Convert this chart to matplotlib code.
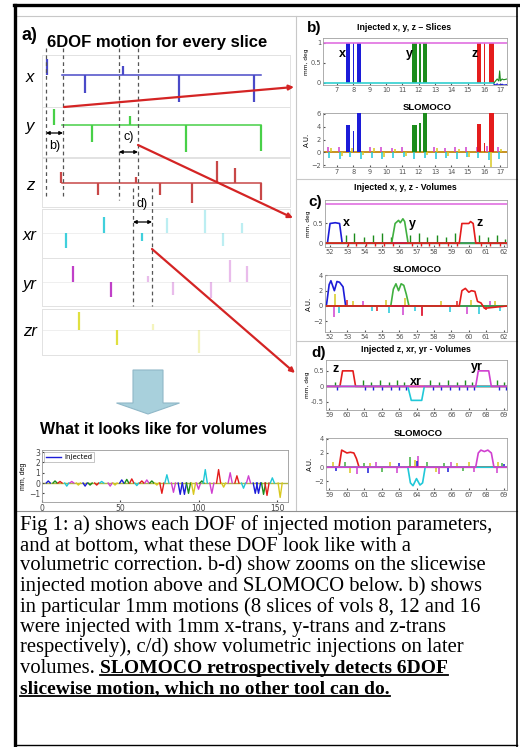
import matplotlib
matplotlib.use('Agg')
import matplotlib.pyplot as plt
import matplotlib.patches as mpatches

W, H = 520, 747
SANS = 'Liberation Sans'
SERIF = 'Liberation Serif'

# ---- a) slice traces: spike positions (volumes) and sizes (mm / deg)
x_spk_vol = [7.5, 30, 52, 85, 129]
x_spk_val = [1.1, -1.2, 0.6, -1.8, -1.8]
y_spk_vol = [11.6, 34, 56, 89, 133]
y_spk_val = [1.1, -1.1, 0.6, -1.8, -1.7]
z_spk_vol = [15.6, 37.4, 60, 73.7, 92.4, 107, 117.5, 133]
z_spk_val = [0.75, -0.8, 0.4, -0.8, -1.3, 1.5, 1.0, -1.1]
xr_spk_vol = [18.7, 41, 63.5, 77.8, 100, 110.5, 121.6]
xr_spk_val = [-1.0, 1.05, -0.5, 1.0, 1.5, -0.85, 0.65]
yr_spk_vol = [22.8, 45, 66.7, 81.3, 103.5, 114.6, 125]
yr_spk_val = [1.05, -1.0, 0.4, -0.85, -1.05, 1.5, 1.05]
zr_spk_vol = [26.3, 48.5, 70, 96.5]
zr_spk_val = [1.2, -1.0, 0.4, -1.5]
trace_start, trace_end = 16.5, 133
row_names = ['x', 'y', 'z', 'xr', 'yr', 'zr']

# ---- bottom: volumetric version
vol_pos = [4.0, 8.3, 11.5, 15.8, 19.0, 23.2, 27.5, 30.7, 34.9, 38.1, 43.5,
           46.6, 50.9, 54.1, 57.3, 60.5, 63.7, 66.9, 70.1, 73.3, 76.5, 79.7,
           83.9, 88.2, 90.9, 93.5, 96.7, 99.9, 102.0, 104.2, 108.4, 112.7,
           115.9, 120.1, 124.4, 128.6, 131.8, 136.1, 138.2, 141.4, 143.6,
           147.0, 152.0]
vol_val = [0.2, 0.2, 0.15, -0.3, 0.15, -0.2, -0.3, -0.2, -0.2, 0.15, -0.3,
           -0.2, 0.3, 0.35, 0.4, -0.25, 0.2, 0.3, 0.2, -0.2, -1.0, 0.8,
           -0.9, -1.1, -1.1, -1.0, -1.1, -0.6, 0.2, 1.3, -1.0, 1.3,
           -0.4, 1.0, 0.7, -0.5, 0.7, -1.0, -1.0, -1.1, -1.2,
           0.5, -1.4]
vol_dof = ['x', 'y', 'z', 'xr', 'yr', 'zr', 'x', 'y', 'z', 'xr', 'yr',
           'zr', 'x', 'y', 'z', 'xr', 'z', 'yr', 'y', 'zr', 'z', 'xr',
           'yr', 'x', 'x', 'y', 'zr', 'yr', 'y', 'xr', 'yr', 'z',
           'zr', 'yr', 'z', 'xr', 'yr', 'x', 'x', 'y', 'z',
           'xr', 'zr']

# ---- b) injected slices (volume intervals)
b_x_slices = [(7.55, 7.80), (7.98, 8.06), (8.22, 8.48)]
b_y_slices = [(11.60, 11.88), (12.02, 12.12), (12.28, 12.50)]
b_z_slices = [(15.58, 15.82), (15.98, 16.06), (16.32, 16.58)]
b_slo_x = [4.3, 3.3, 6.5]
b_slo_y = [4.2, 4.6, 6.5]
b_slo_z = [4.4, 1.4, 6.5]
b_tail_t = [16.6, 16.7, 16.8, 16.9, 16.95, 17.0, 17.1, 17.2, 17.4]
b_tail_g = [0, 0.05, 0.1, 0.05, 0.3, 0.05, 0.1, 0.08, 0.1]
b_tail_b = [-0.03, -0.05, -0.02, -0.06, -0.04, -0.05, -0.03, -0.05, -0.04]
b_art_t = [6.45, 7.1, 7.75, 8.4, 9.05, 9.7, 10.35, 11.0, 11.65, 12.3, 12.95,
           13.6, 14.25, 14.9, 15.55, 16.2, 16.85]
b_art_up = [0.8, 0.9, 0.7, 0.8, 0.9, 0.8, 0.7, 0.9, 0.8, 0.9, 0.8, 0.7, 0.9,
            0.8, 0.8, 1.0, 0.8]
b_art_dn = [-0.9, -1.0, -0.8, -1.1, -0.9, -1.0, -0.9, -0.8, -1.0, -0.9, -1.1,
            -0.9, -1.0, -0.8, -0.9, -1.2, -1.0]
b_art_yl = [0.6, -0.6, 0.7, -0.5, 0.6, -0.7, 0.5, -0.6, 0.7, -0.5, 0.6,
            -0.6, 0.5, -0.7, 0.6, -2.7, 0.5]

# ---- c) volumes 52-62
c_x_t = [51.7, 51.85, 52.0, 52.3, 52.55, 52.7, 62.2]
c_x_v = [0, 0, 0.5, 0.52, 0.5, 0, 0]
c_y_t = [51.7, 55.55, 55.75, 55.95, 56.05, 56.2, 56.3, 56.5, 62.2]
c_y_v = [0, 0, 0.5, 0.58, 0.52, 0.62, 0.55, 0, 0]
c_z_t = [51.7, 59.45, 59.6, 60.0, 60.1, 60.25, 60.4, 62.2]
c_z_v = [0, 0, 0.5, 0.5, 0.55, 0.5, 0, 0]
c_spk_t = [52.9, 53.4, 53.95, 54.5, 55.0, 55.5, 56.6, 57.1, 57.6, 58.15,
           58.7, 59.2, 60.6, 61.1, 61.65, 62.1]
c_spk_v = [0.2, 0.25, 0.15, 0.2, 0.25, 0.15, 0.2, 0.25, 0.15, 0.2, 0.15,
           0.25, 0.2, 0.15, 0.2, 0.1]
c_slo_x_t = [51.7, 51.8, 51.95, 52.05, 52.25, 52.4, 52.55, 52.75, 52.9, 62.2]
c_slo_x_v = [0, 0.2, 2.8, 3.3, 2.0, 3.2, 3.1, 2.5, 0, 0]
c_slo_y_t = [51.7, 55.5, 55.65, 55.8, 55.95, 56.1, 56.25, 56.4, 56.55, 62.2]
c_slo_y_v = [0, 0, 2.2, 2.9, 2.0, 2.9, 2.7, 1.5, 0, 0]
c_slo_z_t = [51.7, 59.45, 59.6, 59.8, 60.0, 60.15, 60.35, 60.5, 60.7, 60.9, 62.2]
c_slo_z_v = [0, 0, 2.0, 2.3, 1.8, 2.0, 1.9, 0.6, 0.4, -0.3, 0]
c_slo_yl_t = [52.3, 53.3, 55.2, 56.3, 58.4, 60.1, 61.5]
c_slo_yl_v = [1.6, 0.6, 0.8, 1.0, 0.6, 0.8, 0.7]
c_slo_mg_t = [52.2, 53.9, 56.2, 57.3, 59.9, 61.2]
c_slo_mg_v = [-1.5, 0.7, -1.2, -1.2, -1.0, 0.6]
c_slo_cy_t = [52.5, 54.4, 55.4, 56.9, 58.9, 60.6, 61.8]
c_slo_cy_v = [-0.9, -0.7, -0.9, -0.6, -0.8, -1.1, -0.7]
c_slo_rd_t = [53.0, 54.7, 57.3, 59.3, 61.0]
c_slo_rd_v = [0.8, -0.6, -1.3, 0.6, -0.5]

# ---- d) volumes 59-69
d_z_t = [58.8, 59.6, 59.75, 60.35, 60.5, 69.2]
d_z_v = [0, 0, 0.5, 0.5, 0, 0]
d_xr_t = [58.8, 63.5, 63.7, 64.3, 64.45, 69.2]
d_xr_v = [0, 0, -0.45, -0.45, 0, 0]
d_yr_t = [58.8, 67.4, 67.55, 68.15, 68.3, 69.2]
d_yr_v = [0, 0, 0.5, 0.5, 0, 0]
d_spk_t = [59.3, 60.9, 61.4, 61.9, 62.4, 62.9, 63.3, 64.8, 65.3, 65.8, 66.3,
           66.8, 67.2, 68.6, 69.0]
d_spk_v = [0.15, 0.2, 0.15, 0.2, 0.15, 0.2, 0.15, 0.2, 0.15, 0.2, 0.15, 0.2,
           0.15, 0.2, 0.15]
d_slo_z_t = [58.8, 59.55, 59.7, 59.85, 60.0, 60.2, 60.4, 60.55, 60.7, 69.2]
d_slo_z_v = [0, 0, 2.4, 2.2, 2.0, 2.1, 2.0, 1.2, 0, 0]
d_slo_xr_t = [58.8, 63.5, 63.65, 63.8, 64.0, 64.2, 64.35, 64.5, 69.2]
d_slo_xr_v = [0, 0, -2.2, -2.6, -1.6, -2.5, -2.2, 0, 0]
d_slo_yr_t = [58.8, 67.4, 67.55, 67.7, 67.9, 68.1, 68.3, 68.45, 69.2]
d_slo_yr_v = [0, 0, 2.0, 2.4, 2.2, 2.4, 2.0, 0, 0]
d_slo_yl_t = [59.2, 60.2, 61.3, 62.5, 63.9, 65.1, 66.3, 67.0, 68.7]
d_slo_yl_v = [0.7, -0.8, 0.6, 0.8, 1.0, -0.7, 0.6, 0.7, 0.8]
d_slo_gn_t = [59.9, 61.0, 62.0, 63.6, 64.6, 65.6, 66.7, 68.9]
d_slo_gn_v = [0.8, 0.6, -0.7, 1.5, 0.7, 0.6, -0.6, 0.6]
d_slo_mg_t = [60.6, 61.7, 62.9, 64.1, 65.3, 66.0, 67.3, 68.6]
d_slo_mg_v = [-0.9, 0.7, -0.8, 1.6, -0.9, 0.8, -0.7, -0.8]
d_slo_bl_t = [59.4, 61.2, 63.0, 64.0, 65.8, 69.0]
d_slo_bl_v = [-0.6, -0.8, 0.6, 0.9, -0.7, 0.5]

caption = [
    "Fig 1: a) shows each DOF of injected motion parameters,",
    "and at bottom, what these DOF look like with a",
    "volumetric correction. b-d) show zooms on the slicewise",
    "injected motion above and SLOMOCO below. b) shows",
    "in particular 1mm motions (8 slices of vols 8, 12 and 16",
    "were injected with 1mm x-trans, y-trans and z-trans",
    "respectively), c/d) show volumetric injections on later",
]
caption_lead = "volumes."
caption_bold = ["SLOMOCO retrospectively detects 6DOF",
                "slicewise motion, which no other tool can do."]

ROW_COL = {'x': '#4a4ac8', 'y': '#48d048', 'z': '#c84848',
           'xr': '#40d0dc', 'yr': '#c040c8', 'zr': '#e0e040'}
PAN_COL = {'x': '#1c1cd8', 'y': '#1c8c1c', 'z': '#e41c1c',
           'xr': '#20c8d8', 'yr': '#d040d0', 'zr': '#d8c820'}


def box(l, t, r, b):
    return [l / W, 1 - b / H, (r - l) / W, (b - t) / H]


fig = plt.figure(figsize=(W / 100, H / 100), dpi=100)
fig.patch.set_facecolor('white')

# ---------------- a) rows
row_data = {'x': (x_spk_vol, x_spk_val), 'y': (y_spk_vol, y_spk_val),
            'z': (z_spk_vol, z_spk_val), 'xr': (xr_spk_vol, xr_spk_val),
            'yr': (yr_spk_vol, yr_spk_val), 'zr': (zr_spk_vol, zr_spk_val)}
row_top = [55, 107, 158, 209, 258, 309]
row_bot = [107, 157, 207, 258, 306, 355]
row_base = [75, 125, 183, 233, 282, 330]
for name, t, b, base in zip(row_names, row_top, row_bot, row_base):
    ax = fig.add_axes(box(42, t, 290, b))
    ax.set_xlim(4.7, 150)
    ax.set_ylim(-(b - base) / 15, (base - t) / 15)
    ax.set_xticks([]); ax.set_yticks([])
    for s in ax.spines.values():
        s.set_color('#e2e2e2'); s.set_linewidth(0.7)
    col = ROW_COL[name]
    vols, vals = row_data[name]
    if name in ('x', 'y', 'z'):
        ax.plot([trace_start, trace_end], [0, 0], color=col, lw=1.1)
    else:
        ax.axhline(0, color='#ececec', lw=0.6)
    for v, h in zip(vols, vals):
        a = 1.0 if (name in ('x', 'y', 'z') or v < 65) else 0.35
        ax.vlines(v, 0, h, color=col, lw=1.6, alpha=a)

# ---------------- bottom volumes plot
axv = fig.add_axes(box(42, 450, 288, 502))
axv.set_xlim(0, 157)
axv.set_ylim(-1.84, 3.2)
axv.set_xticks([0, 50, 100, 150])
axv.set_yticks([-1, 0, 1, 2, 3])
axv.tick_params(labelsize=5.5, length=1.5, pad=1.5, direction='in', colors='#444444')
for s in axv.spines.values():
    s.set_color('#999999'); s.set_linewidth(0.6)
axv.axhline(0, color='#b0b840', lw=1.0, zorder=1)
first = True
for p, v, d in zip(vol_pos, vol_val, vol_dof):
    lab = None
    if d == 'x' and first:
        lab = 'Injected'; first = False
    axv.plot([p - 1.3, p, p + 1.3], [0, v, 0], color=PAN_COL[d], lw=1.0, label=lab)
leg = axv.legend(loc='upper left', fontsize=5, handlelength=2.2, frameon=True,
                 fancybox=False, borderpad=0.3, handletextpad=0.4,
                 borderaxespad=0.3)
leg.get_frame().set_edgecolor('#999999'); leg.get_frame().set_linewidth(0.5)
axv.set_ylabel('mm, deg', fontsize=5, labelpad=1, family=SANS)


# ---------------- right panels
def panel(l, t, r, b, xlim, ylim, yticks, yfmt=None):
    ax = fig.add_axes(box(l, t, r, b))
    ax.set_xlim(xlim); ax.set_ylim(ylim)
    lo = int(round(xlim[0] + 0.4))
    ax.set_xticks(range(lo, int(xlim[1]) + 1))
    ax.set_yticks(yticks)
    if yfmt is not None:
        ax.set_yticklabels(yfmt)
    ax.tick_params(labelsize=4.8, length=1.5, pad=1.5, colors='#555555',
                   direction='in')
    for s in ax.spines.values():
        s.set_color('#a0a0a0'); s.set_linewidth(0.6)
    return ax


def spikes(ax, ts, vs, col, lw=1.1):
    ax.vlines(ts, 0, vs, color=col, lw=lw)


# b)
bt = panel(323, 38, 507, 85, (6.15, 17.4), (-0.05, 1.12), [0, 0.5, 1], ['0', '0.5', '1'])
bt.axhline(1, color='#e070e0', lw=1.2)
bt.plot([6.15, 16.6], [0, 0], color='#30d0d0', lw=1.2)
for sl, key in ((b_x_slices, 'x'), (b_y_slices, 'y'), (b_z_slices, 'z')):
    bt.bar([s[0] for s in sl], [1] * len(sl), width=[s[1] - s[0] for s in sl],
           align='edge', color=PAN_COL[key], lw=0)
bt.plot(b_tail_t, b_tail_g, color=PAN_COL['y'], lw=0.8)
bt.plot(b_tail_t, b_tail_b, color=PAN_COL['x'], lw=0.8)
for tx, lab in ((7.15, 'x'), (11.2, 'y'), (15.2, 'z')):
    bt.text(tx, 0.72, lab, fontsize=9, weight='bold', family=SANS, va='center')
bt.set_ylabel('mm, deg', fontsize=4.2, labelpad=1)

bl = panel(323, 113, 507, 167, (6.15, 17.4), (-2.3, 6.15), [-2, 0, 2, 4, 6])
bl.axhline(0, color='#c89020', lw=1.4, zorder=1)
spikes(bl, b_art_t, b_art_up, PAN_COL['yr'])
spikes(bl, [t + 0.08 for t in b_art_t], b_art_dn, PAN_COL['xr'])
spikes(bl, [t + 0.2 for t in b_art_t], b_art_yl, PAN_COL['zr'])
for sl, vals, key in ((b_x_slices, b_slo_x, 'x'), (b_y_slices, b_slo_y, 'y'),
                      (b_z_slices, b_slo_z, 'z')):
    bl.bar([s[0] for s in sl], vals, width=[s[1] - s[0] for s in sl],
           align='edge', color=PAN_COL[key], lw=0, zorder=3)
bl.set_ylabel('A.U.', fontsize=5, labelpad=1)

# c)
ct = panel(325, 200, 507, 247, (51.71, 62.2), (-0.1, 1.1), [0, 0.5], ['0', '0.5'])
ct.axhline(1, color='#e070e0', lw=1.2)
spikes(ct, c_spk_t, c_spk_v, PAN_COL['y'], lw=1.0)
spikes(ct, [t + 0.12 for t in c_spk_t], [-0.07] * len(c_spk_t), PAN_COL['z'], lw=1.0)
ct.plot(c_x_t, c_x_v, color=PAN_COL['x'], lw=1.2)
ct.plot(c_y_t, c_y_v, color='#40b040', lw=1.2)
ct.plot(c_z_t, c_z_v, color=PAN_COL['z'], lw=1.2)
ct.axhline(0, color='#207070', lw=1.0, zorder=1)
for tx, lab in ((52.75, 'x'), (56.55, 'y'), (60.45, 'z')):
    ct.text(tx, 0.5, lab, fontsize=9, weight='bold', family=SANS, va='center')
ct.set_ylabel('mm, deg', fontsize=4.2, labelpad=1)

cl = panel(325, 275, 507, 332, (51.71, 62.2), (-3.4, 4.05), [-2, 0, 2, 4])
cl.axhline(0, color='#c89020', lw=1.2, zorder=1)
spikes(cl, c_slo_yl_t, c_slo_yl_v, PAN_COL['zr'])
spikes(cl, c_slo_mg_t, c_slo_mg_v, PAN_COL['yr'])
spikes(cl, c_slo_cy_t, c_slo_cy_v, PAN_COL['xr'])
spikes(cl, c_slo_rd_t, c_slo_rd_v, PAN_COL['z'])
cl.plot(c_slo_x_t, c_slo_x_v, color=PAN_COL['x'], lw=1.2)
cl.plot(c_slo_y_t, c_slo_y_v, color='#40b040', lw=1.2)
cl.plot(c_slo_z_t, c_slo_z_v, color=PAN_COL['z'], lw=1.2)
cl.set_ylabel('A.U.', fontsize=5, labelpad=1)

# d)
dt = panel(326, 360, 507, 410, (58.8, 69.2), (-0.76, 0.85), [-0.5, 0, 0.5],
           ['-0.5', '0', '0.5'])
spikes(dt, d_spk_t, d_spk_v, PAN_COL['y'], lw=1.0)
spikes(dt, [t + 0.12 for t in d_spk_t], [-0.12] * len(d_spk_t), PAN_COL['x'], lw=1.0)
dt.axhline(0, color='#a08030', lw=1.0, zorder=1)
dt.plot(d_z_t, d_z_v, color=PAN_COL['z'], lw=1.2)
dt.plot(d_xr_t, d_xr_v, color=PAN_COL['xr'], lw=1.2)
dt.plot(d_yr_t, d_yr_v, color=PAN_COL['yr'], lw=1.2)
dt.text(59.15, 0.55, 'z', fontsize=9, weight='bold', family=SANS, va='center')
dt.text(63.6, 0.13, 'xr', fontsize=9, weight='bold', family=SANS, va='center')
dt.text(67.1, 0.62, 'yr', fontsize=9, weight='bold', family=SANS, va='center')
dt.set_ylabel('mm, deg', fontsize=4.2, labelpad=1)

dl = panel(326, 438, 507, 490, (58.8, 69.2), (-3.2, 4.1), [-2, 0, 2, 4])
dl.axhline(0, color='#c89020', lw=1.2, zorder=1)
spikes(dl, d_slo_yl_t, d_slo_yl_v, PAN_COL['zr'])
spikes(dl, d_slo_gn_t, d_slo_gn_v, '#40b040')
spikes(dl, d_slo_mg_t, d_slo_mg_v, PAN_COL['yr'])
spikes(dl, d_slo_bl_t, d_slo_bl_v, PAN_COL['x'])
dl.plot(d_slo_z_t, d_slo_z_v, color=PAN_COL['z'], lw=1.2)
dl.plot(d_slo_xr_t, d_slo_xr_v, color=PAN_COL['xr'], lw=1.2)
dl.plot(d_slo_yr_t, d_slo_yr_v, color=PAN_COL['yr'], lw=1.2)
dl.set_ylabel('A.U.', fontsize=5, labelpad=1)

# ---------------- overlay: frames, labels, arrows, caption
ov = fig.add_axes([0, 0, 1, 1], zorder=10)
ov.set_xlim(0, W); ov.set_ylim(H, 0)
ov.axis('off')
ov.patch.set_alpha(0)

grey = '#c8c8c8'
ov.plot([17, 517], [16, 16], color=grey, lw=0.8)
ov.plot([296, 296], [16, 510], color=grey, lw=0.8)
ov.plot([296, 517], [179, 179], color=grey, lw=0.8)
ov.plot([296, 517], [341, 341], color=grey, lw=0.8)
ov.plot([17, 517], [511, 511], color='#909090', lw=0.8)
ov.plot([15, 15], [5, 747], color='black', lw=2.4)
ov.plot([14, 518], [5, 5], color='black', lw=2.4)
ov.plot([517, 517], [5, 747], color='black', lw=1.2)
ov.plot([15, 517], [745, 745], color='black', lw=1.0)

ov.text(22, 35, 'a)', fontsize=13, weight='bold', family=SANS, va='center')
ov.text(157, 42, '6DOF motion for every slice', fontsize=12, weight='bold',
        family=SANS, ha='center', va='center')
for name, base in zip(row_names, row_base):
    ov.text(30, base + 2, name, fontsize=12, style='italic', family=SANS,
            ha='center', va='center')

ov.text(307, 28, 'b)', fontsize=11, weight='bold', family=SANS, va='center')
ov.text(404, 27, 'Injected x, y, z \u2013 Slices', fontsize=6.3, weight='bold',
        family=SANS, ha='center', va='center')
ov.text(427, 108, 'SLOMOCO', fontsize=6.8, weight='bold', family=SANS,
        ha='center', va='center')
ov.text(405, 188, 'Injected x, y, z - Volumes', fontsize=6.3, weight='bold',
        family=SANS, ha='center', va='center')
ov.text(308, 202, 'c)', fontsize=11, weight='bold', family=SANS, va='center')
ov.text(417, 270, 'SLOMOCO', fontsize=6.8, weight='bold', family=SANS,
        ha='center', va='center')
ov.text(311, 353, 'd)', fontsize=11, weight='bold', family=SANS, va='center')
ov.text(416, 350, 'Injected z, xr, yr - Volumes', fontsize=6.3, weight='bold',
        family=SANS, ha='center', va='center')
ov.text(418, 433, 'SLOMOCO', fontsize=6.8, weight='bold', family=SANS,
        ha='center', va='center')

# zoom windows
for xs, y0, y1 in (((46, 63), 48, 196), ((119, 138), 48, 200), ((133, 152), 188, 306)):
    for xx in xs:
        ov.plot([xx, xx], [y0, y1], color='#555555', lw=0.9, ls=(0, (3, 2.5)))
for (xa, xb), yy, lab, ly in (((46, 63), 133, 'b)', 146), ((119, 138), 152, 'c)', 137),
                             ((133, 152), 222, 'd)', 204)):
    ov.annotate('', xy=(xa, yy), xytext=(xb, yy),
                arrowprops=dict(arrowstyle='<|-|>', color='black', lw=0.9,
                                mutation_scale=5, shrinkA=0, shrinkB=0))
    ov.text((xa + xb) / 2, ly, lab, fontsize=9, family=SANS, ha='center', va='center')

red = '#d42424'
for (x0, y0), (x1, y1) in (((64, 107), (294, 87)), ((138, 145), (293, 218)),
                           ((152, 249), (295, 373))):
    ov.annotate('', xy=(x1, y1), xytext=(x0, y0),
                arrowprops=dict(arrowstyle='-|>', color=red, lw=1.6,
                                mutation_scale=7, shrinkA=0, shrinkB=0))

ov.add_patch(mpatches.FancyArrow(148, 370, 0, 33, width=30, head_width=63,
                                 head_length=11, length_includes_head=False,
                                 fc='#a8d0dc', ec='#90b8c8', lw=0.8))
ov.text(153, 430, 'What it looks like for volumes', fontsize=11.5, weight='bold',
        family=SANS, ha='center', va='center')

# caption
base0, step = 530, 20.4
csize, bsize = 14.9, 14.0
for i, line in enumerate(caption):
    ov.text(20, base0 + i * step, line, fontsize=csize, family=SERIF, va='baseline')
y8 = base0 + 7 * step
y9 = base0 + 8 * step
t_lead = ov.text(20, y8, caption_lead, fontsize=csize, family=SERIF, va='baseline')
fig.canvas.draw()
r = fig.canvas.get_renderer()
inv = ov.transData.inverted()
bb = t_lead.get_window_extent(r)
x_after = inv.transform((bb.x1, bb.y0))[0] + 5
tb1 = ov.text(x_after, y8, caption_bold[0], fontsize=bsize, family=SERIF,
              weight='bold', va='baseline')
tb2 = ov.text(20, y9, caption_bold[1], fontsize=bsize, family=SERIF,
              weight='bold', va='baseline')
fig.canvas.draw()
for t, yb in ((tb1, y8), (tb2, y9)):
    e = t.get_window_extent(r)
    xa = inv.transform((e.x0, e.y0))[0]
    xb = inv.transform((e.x1, e.y0))[0]
    ov.plot([xa, xb], [yb + 2.5, yb + 2.5], color='black', lw=1.3)

fig.savefig('out.png', dpi=100, facecolor='white')
